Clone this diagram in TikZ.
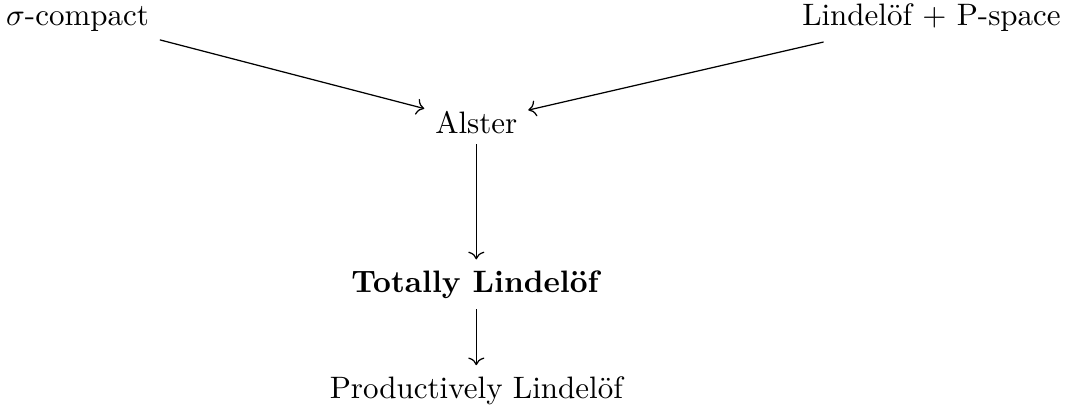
\documentclass[tikz,border=0pt]{standalone}
\usepackage{mathtools}
\usepackage{tikz}
\usetikzlibrary{calc, arrows.meta}

\tikzset{implies/.style={->, >={Computer Modern Rightarrow}}}

\begin{document}
\begin{tikzpicture}
	\def \midx {5.4}
	\def \topy {4.342}

	\useasboundingbox (0,0) rectangle (12.12,4.626);

	\node[anchor=base] (sigmacompact) at (0.879, \topy)
		{$\sigma$-compact};
	\node[anchor=base] (lindelofp)    at (10.561, \topy)
		{Lindel\"of $+$ P-space};
	\node[anchor=base] (alster)       at (\midx, 3.118)
		{Alster};
	\node[anchor=base] (totally)      at (\midx, 1.315)
		{\textbf{Totally Lindel\"of}};
	\node[anchor=base] (productively) at (\midx, 0.113)
		{Productively Lindel\"of};

	\draw[implies] (sigmacompact) -- (alster);
	\draw[implies] (lindelofp) -- (alster);
	\draw[implies] (alster) -- (totally);
	\draw[implies] (totally) -- (productively);
\end{tikzpicture}
\end{document}
